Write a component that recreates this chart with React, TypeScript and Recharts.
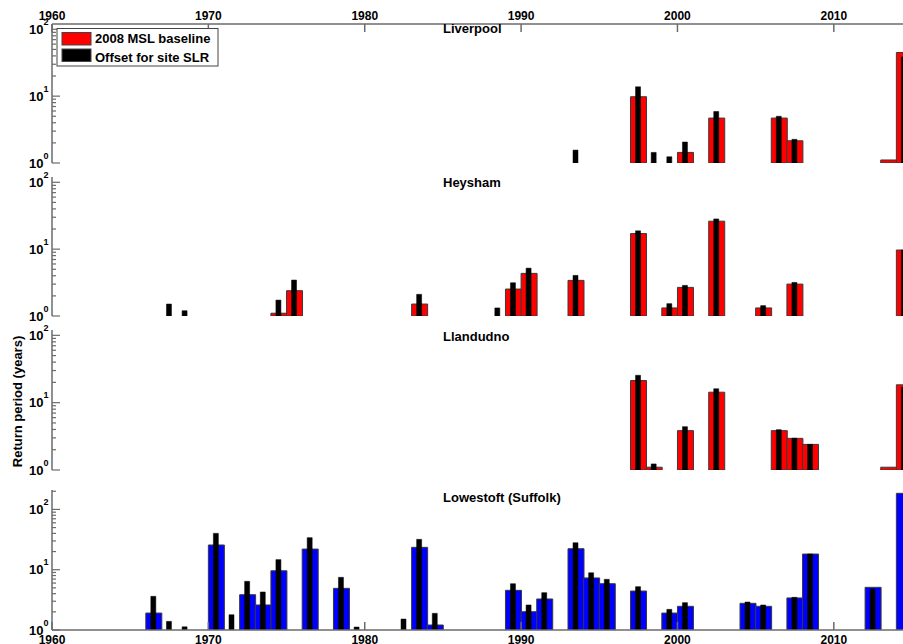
import React from "react";
import { BarChart, Bar, XAxis, YAxis } from "recharts";

// x categories: one band per year
const FIRST_YEAR = 1960;
const LAST_YEAR = 2014;
const DECADE_TICKS = [1960, 1970, 1980, 1990, 2000, 2010];
const LOG_TICKS = [1, 2, 3, 4, 5, 6, 7, 8, 9, 10, 20, 30, 40, 50, 60, 70, 80, 90, 100];
const LOG_TICKS_200 = [...LOG_TICKS, 200];

// Liverpool
const LIV_YEARS = [1993, 1997, 1998, 1999, 2000, 2002, 2006, 2007, 2013, 2014];
const LIV_BASE = [null, 9.8, null, null, 1.44, 4.7, 4.7, 2.15, 1.11, 45];
const LIV_SLR = [1.56, 13.8, 1.44, 1.24, 2.06, 5.9, 5.0, 2.26, null, 38.6];

// Heysham
const HEY_YEARS = [1967, 1968, 1974, 1975, 1983, 1988, 1989, 1990, 1993, 1997, 1999, 2000, 2002, 2005, 2007, 2014];
const HEY_BASE = [null, null, 1.1, 2.39, 1.51, null, 2.53, 4.34, 3.41, 17.1, 1.32, 2.68, 26.2, 1.32, 3.0, 9.7];
const HEY_SLR = [1.51, 1.2, 1.73, 3.45, 2.11, 1.32, 3.14, 5.2, 4.05, 18.8, 1.53, 2.87, 28.3, 1.43, 3.18, 9.7];

// Llandudno
const LLA_YEARS = [1997, 1998, 2000, 2002, 2006, 2007, 2008, 2013, 2014];
const LLA_BASE = [21.3, 1.1, 3.84, 14.3, 3.84, 2.95, 2.4, 1.1, 18.4];
const LLA_SLR = [25.5, 1.23, 4.4, 16.1, 3.97, 2.97, 2.4, null, 17];

// Lowestoft (Suffolk)
const LOW_YEARS = [1966, 1967, 1968, 1970, 1971, 1972, 1973, 1974, 1976, 1978, 1979, 1982, 1983, 1984, 1989, 1990, 1991, 1993, 1994, 1995, 1997, 1999, 2000, 2004, 2005, 2007, 2008, 2012, 2014];
const LOW_BASE = [1.91, null, null, 25.7, null, 3.85, 2.6, 9.6, 22.0, 4.91, null, null, 23.5, 1.21, 4.55, 2.01, 3.27, 22.3, 7.3, 5.86, 4.43, 1.91, 2.47, 2.77, 2.47, 3.4, 18.2, 5.1, 185];
const LOW_SLR = [3.62, 1.39, 1.13, 40.1, 1.79, 6.42, 4.27, 14.7, 34, 7.48, 1.12, 1.52, 31.9, 1.89, 5.86, 2.6, 4.16, 28, 8.9, 6.93, 5.23, 2.2, 2.84, 2.91, 2.6, 3.48, 18.2, 4.78, null];

const RED = "#ff0000";
const BLUE = "#0000ff";
const AXIS = "#6b6b6b";
const EDGE = "#3a3a3a";
const FONT = '"Liberation Sans", Arial, sans-serif';

const Y_AXIS_W = 52;
const PLOT_W = 860;
const BAND = PLOT_W / (LAST_YEAR - FIRST_YEAR + 1);

function buildRows(years: number[], base: (number | null)[], slr: (number | null)[]) {
  const rows: any[] = [];
  for (let y = FIRST_YEAR; y <= LAST_YEAR; y++) {
    const i = years.indexOf(y);
    rows.push({ year: y, base: i >= 0 ? base[i] : null, slr: i >= 0 ? slr[i] : null });
  }
  return rows;
}

const XTick = ({ x, y, payload, side, showLabel }: any) => {
  const x0 = x - BAND / 2;
  const dir = side === "bottom" ? -1 : 1;
  return (
    <g>
      <line x1={x0} x2={x0} y1={y} y2={y + dir * 8} stroke={AXIS} strokeWidth={1.5} />
      {showLabel && (
        <text
          x={x0}
          y={side === "bottom" ? y + 14 : y - 4}
          textAnchor="middle"
          fontFamily={FONT}
          fontWeight="bold"
          fontSize={12}
          fill="#000"
        >
          {payload.value}
        </text>
      )}
    </g>
  );
};

const YTick = ({ x, y, payload }: any) => {
  const v = payload.value;
  const exp = Math.round(Math.log10(v));
  const major = Math.abs(Math.pow(10, exp) - v) < 1e-6;
  return (
    <g>
      <line x1={x} x2={x + (major ? 8 : 4)} y1={y} y2={y} stroke={AXIS} strokeWidth={1.2} />
      {major && (
        <text x={x - 3.5} y={y + 4.7} textAnchor="end" fontFamily={FONT} fontWeight="bold" fontSize={13} fill="#000">
          10
          <tspan dy={-9} fontSize={9}>
            {exp}
          </tspan>
        </text>
      )}
    </g>
  );
};

type PanelProps = {
  top: number;
  bottom: number;
  yMax: number;
  yTicks: number[];
  fill: string;
  rows: any[];
  labels?: "top" | "bottom";
};

function Panel({ top, bottom, yMax, yTicks, fill, rows, labels }: PanelProps) {
  const topH = labels === "top" ? 24 : 0;
  const botH = labels === "bottom" ? 20 : 0;
  const pad = 12;
  const h = pad + topH + (bottom - top) + botH + pad;
  return (
    <div style={{ position: "absolute", left: 0, top: top - topH - pad }}>
      <BarChart
        width={Y_AXIS_W + PLOT_W}
        height={h}
        data={rows}
        margin={{ top: pad, right: 0, bottom: pad, left: 0 }}
        barCategoryGap={0}
        barGap={0}
      >
        <XAxis
          xAxisId="b"
          dataKey="year"
          type="category"
          orientation="bottom"
          height={botH}
          ticks={DECADE_TICKS}
          interval={0}
          tickSize={0}
          tickMargin={0}
          tickLine={false}
          axisLine={{ stroke: AXIS, strokeWidth: 1.5 }}
          tick={(p: any) => <XTick {...p} side="bottom" showLabel={labels === "bottom"} />}
        />
        <XAxis
          xAxisId="t"
          dataKey="year"
          type="category"
          orientation="top"
          height={topH}
          ticks={DECADE_TICKS}
          interval={0}
          tickSize={0}
          tickMargin={0}
          tickLine={false}
          axisLine={{ stroke: AXIS, strokeWidth: 1.5 }}
          tick={(p: any) => <XTick {...p} side="top" showLabel={labels === "top"} />}
        />
        <YAxis
          yAxisId="y"
          scale="log"
          domain={[1, yMax]}
          allowDataOverflow
          ticks={yTicks}
          interval={0}
          width={Y_AXIS_W}
          tickSize={0}
          tickMargin={0}
          tickLine={false}
          axisLine={{ stroke: AXIS, strokeWidth: 1.5 }}
          tick={(p: any) => <YTick {...p} />}
        />
        <YAxis yAxisId="y2" scale="log" domain={[1, yMax]} allowDataOverflow hide />
        <Bar
          xAxisId="b"
          yAxisId="y"
          dataKey="base"
          fill={fill}
          stroke={EDGE}
          strokeWidth={1}
          isAnimationActive={false}
        />
        <Bar
          xAxisId="t"
          yAxisId="y2"
          dataKey="slr"
          fill="#000"
          stroke="#000"
          strokeWidth={0.5}
          barSize={5}
          isAnimationActive={false}
        />
      </BarChart>
    </div>
  );
}

export default function App() {
  const textStyle = { fontFamily: FONT, fontWeight: "bold" as const, fontSize: 13, fill: "#000" };
  return (
    <div
      style={{
        position: "absolute",
        left: 0,
        top: 0,
        width: 903,
        height: 644,
        overflow: "hidden",
        background: "#fff",
      }}
    >
      <Panel top={24} bottom={163} yMax={120} yTicks={LOG_TICKS} fill={RED} rows={buildRows(LIV_YEARS, LIV_BASE, LIV_SLR)} labels="top" />
      <Panel top={177} bottom={316} yMax={120} yTicks={LOG_TICKS} fill={RED} rows={buildRows(HEY_YEARS, HEY_BASE, HEY_SLR)} />
      <Panel top={330} bottom={470} yMax={120} yTicks={LOG_TICKS} fill={RED} rows={buildRows(LLA_YEARS, LLA_BASE, LLA_SLR)} />
      <Panel top={490} bottom={630} yMax={210} yTicks={LOG_TICKS_200} fill={BLUE} rows={buildRows(LOW_YEARS, LOW_BASE, LOW_SLR)} labels="bottom" />

      <svg width={903} height={644} style={{ position: "absolute", left: 0, top: 0, pointerEvents: "none" }}>
        {/* panel titles */}
        <text x={443} y={33} {...textStyle}>Liverpool</text>
        <text x={443} y={187} {...textStyle}>Heysham</text>
        <text x={443} y={341} {...textStyle}>Llandudno</text>
        <text x={443} y={502} {...textStyle}>Lowestoft (Suffolk)</text>

        {/* y label */}
        <text x={0} y={0} textAnchor="middle" transform="translate(21.5 401.5) rotate(-90)" {...textStyle}>
          Return period (years)
        </text>

        {/* legend */}
        <rect x={57} y={28.5} width={161} height={37.5} fill="#fff" stroke="#444" strokeWidth={1} />
        <rect x={62} y={32.5} width={29} height={12.5} fill={RED} stroke="#444" />
        <rect x={62} y={49} width={29} height={12.5} fill="#000" stroke="#444" />
        <text x={95} y={43.3} {...textStyle}>2008 MSL baseline</text>
        <text x={95} y={61.5} {...textStyle}>Offset for site SLR</text>
      </svg>
    </div>
  );
}
